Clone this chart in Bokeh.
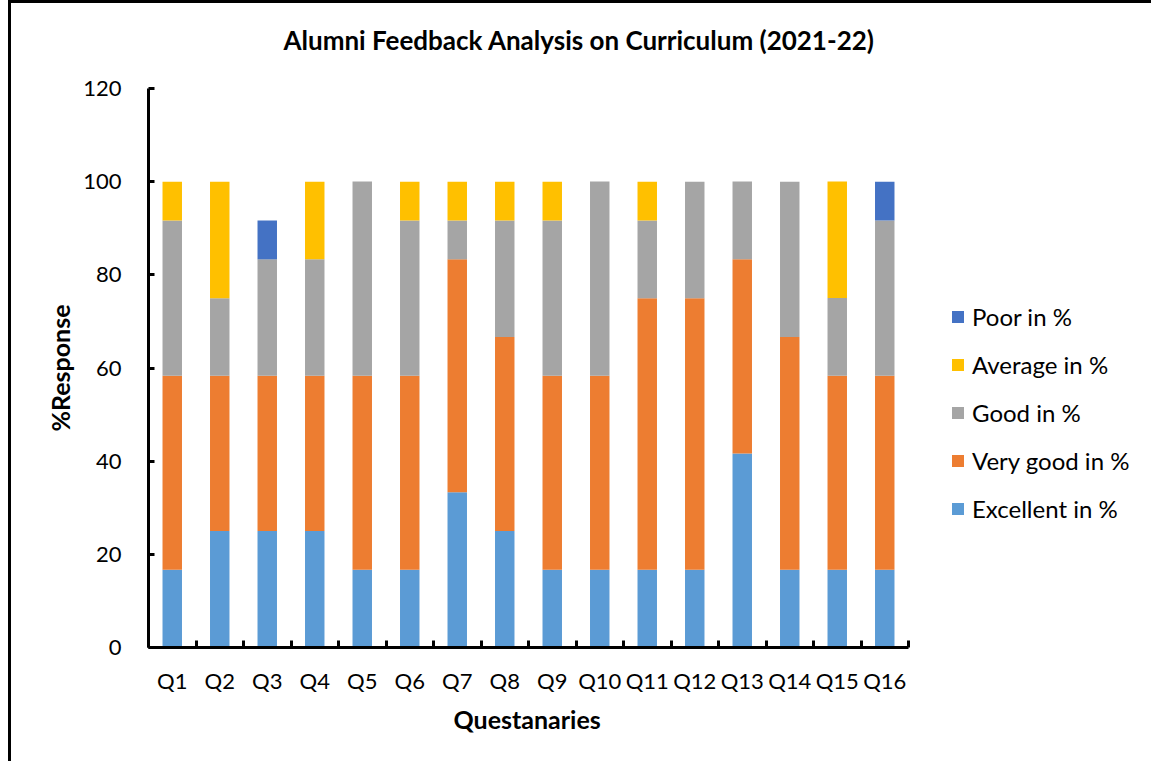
from bokeh.plotting import figure
from bokeh.models import FixedTicker, Legend, LegendItem, ColumnDataSource, Title
from bokeh.embed import file_html
from bokeh.resources import INLINE

questions = ["Q1", "Q2", "Q3", "Q4", "Q5", "Q6", "Q7", "Q8",
             "Q9", "Q10", "Q11", "Q12", "Q13", "Q14", "Q15", "Q16"]
excellent = [16.67, 25.00, 25.00, 25.00, 16.67, 16.67, 33.33, 25.00,
             16.67, 16.67, 16.67, 16.67, 41.67, 16.67, 16.67, 16.67]
very_good = [41.67, 33.33, 33.33, 33.33, 41.67, 41.67, 50.00, 41.67,
             41.67, 41.67, 58.33, 58.33, 41.67, 50.00, 41.67, 41.67]
good = [33.33, 16.67, 25.00, 25.00, 41.67, 33.33, 8.33, 25.00,
        33.33, 41.67, 16.67, 25.00, 16.67, 33.33, 16.67, 33.33]
average = [8.33, 25.00, 0.00, 16.67, 0.00, 8.33, 8.33, 8.33,
           8.33, 0.00, 8.33, 0.00, 0.00, 0.00, 25.00, 0.00]
poor = [0.00, 0.00, 8.33, 0.00, 0.00, 0.00, 0.00, 0.00,
        0.00, 0.00, 0.00, 0.00, 0.00, 0.00, 0.00, 8.33]
series_names = ["Excellent in %", "Very good in %", "Good in %", "Average in %", "Poor in %"]
colors = ["#5B9BD5", "#ED7D31", "#A5A5A5", "#FFC000", "#4472C4"]
y_ticks = [0, 20, 40, 60, 80, 100, 120]

FONT = "Lato"
n = len(questions)
xpos = list(range(1, n + 1))
keys = ["exc", "vg", "good", "avg", "poor"]
source = ColumnDataSource(dict(x=xpos, exc=excellent, vg=very_good, good=good, avg=average, poor=poor))

# layout (pixels)
W, H = 1143, 761
LEFT, TOP = 137, 85
BOTTOM = H - 644
AXIS_W = 760                      # pixel length of the category axis
frame_w = W - LEFT
x_end = 0.5 + n * frame_w / AXIS_W  # empty room right of the axis holds the legend

p = figure(width=W, height=H, output_backend="svg", toolbar_location=None,
           x_range=(0.5, x_end), y_range=(0, 120),
           min_border_left=LEFT, min_border_right=0, min_border_top=TOP, min_border_bottom=BOTTOM)
p.styles = {"margin-left": "8px", "padding-left": "3px", "padding-top": "3px",
            "background": "linear-gradient(#000, #000) 0 0 / 3px 100% no-repeat, "
                          "linear-gradient(#000, #000) 0 0 / 100% 3px no-repeat",
            "overflow": "hidden", "outline": "none", "box-shadow": "none"}

renderers = p.vbar_stack(keys, x="x", width=0.41, source=source, color=colors, line_width=0)

p.grid.visible = False
p.outline_line_color = None
p.background_fill_color = "white"
p.border_fill_color = "white"

# spacer between the frame and the chart title
p.add_layout(Title(text=" ", text_font_size="14px", text_color="white"), "above")

p.title.text = "Alumni Feedback Analysis on Curriculum  (2021-22)"
p.title.align = "left"
p.title.offset = 135
p.title.text_font = FONT
p.title.text_font_size = "26px"
p.title.text_font_style = "bold"
p.title.text_color = "black"

xa = p.xaxis[0]
xa.bounds = (0.5, n + 0.5)
xa.ticker = FixedTicker(ticks=xpos, minor_ticks=[i + 0.5 for i in range(n + 1)])
xa.major_label_overrides = {i + 1: q for i, q in enumerate(questions)}
xa.major_tick_line_color = None
xa.minor_tick_in = 7
xa.minor_tick_out = 0
xa.minor_tick_line_width = 3
xa.minor_tick_line_color = "black"
xa.axis_line_width = 3
xa.axis_line_color = "black"
xa.major_label_text_font = FONT
xa.major_label_text_font_size = "22px"
xa.major_label_text_color = "black"
xa.major_label_standoff = 13

p.add_layout(Title(text="Questanaries", align="left", offset=305, standoff=10,
                   text_font=FONT, text_font_size="25px", text_font_style="bold",
                   text_color="black"), "below")

ya = p.yaxis[0]
ya.ticker = FixedTicker(ticks=y_ticks)
ya.minor_tick_line_color = None
ya.major_tick_in = 6
ya.major_tick_out = 0
ya.major_tick_line_width = 3
ya.axis_line_width = 3
ya.axis_line_color = "black"
ya.major_label_text_font = FONT
ya.major_label_text_font_size = "22px"
ya.major_label_text_color = "black"
ya.major_label_standoff = 27
ya.axis_label = "%Response"
ya.axis_label_text_font = FONT
ya.axis_label_text_font_size = "25px"
ya.axis_label_text_font_style = "bold"
ya.axis_label_text_color = "black"
ya.axis_label_standoff = 5

items = [LegendItem(label=series_names[i], renderers=[renderers[i]]) for i in range(4, -1, -1)]
legend = Legend(items=items, location=(802, 124), orientation="vertical",
                glyph_width=15, glyph_height=15, label_height=29, spacing=19,
                padding=0, margin=0, border_line_color=None, background_fill_alpha=0,
                label_text_font=FONT, label_text_font_size="24px", label_text_color="black",
                label_standoff=7)
p.add_layout(legend, "center")

open("out.html", "w").write(file_html(p, INLINE))
